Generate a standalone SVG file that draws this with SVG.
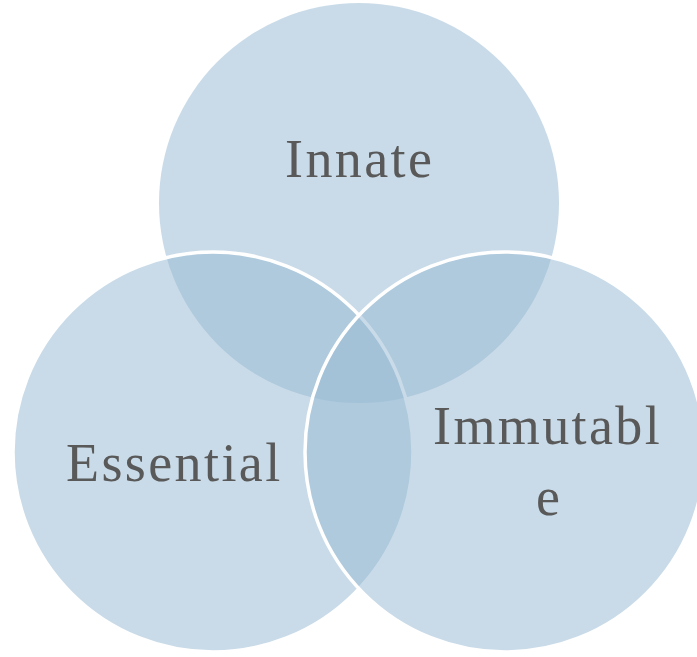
<svg xmlns="http://www.w3.org/2000/svg" width="697" height="657" viewBox="0 0 697 657">
  <style>
    .set { fill: #97BAD3; fill-opacity: 0.52; }
    .edge { stroke: #FFFFFF; stroke-width: 3.5; }
    .label { font-family: "Liberation Serif", "DejaVu Serif", serif; font-size: 54px; fill: #595959; letter-spacing: 2.4px; }
  </style>
  <rect width="697" height="657" fill="#FFFFFF"/>
  <g id="innate">
    <circle class="set" cx="359" cy="203" r="200"/>
    <text class="label" x="285" y="177">Innate</text>
  </g>
  <g id="essential">
    <circle class="set edge" cx="213" cy="452" r="200"/>
    <text class="label" x="66" y="481">Essential</text>
  </g>
  <g id="immutable">
    <circle class="set edge" cx="505" cy="452" r="200"/>
    <text class="label" x="433" y="444">Immutabl</text>
    <text class="label" x="536" y="515">e</text>
  </g>
  <g id="connectors"/>
</svg>
